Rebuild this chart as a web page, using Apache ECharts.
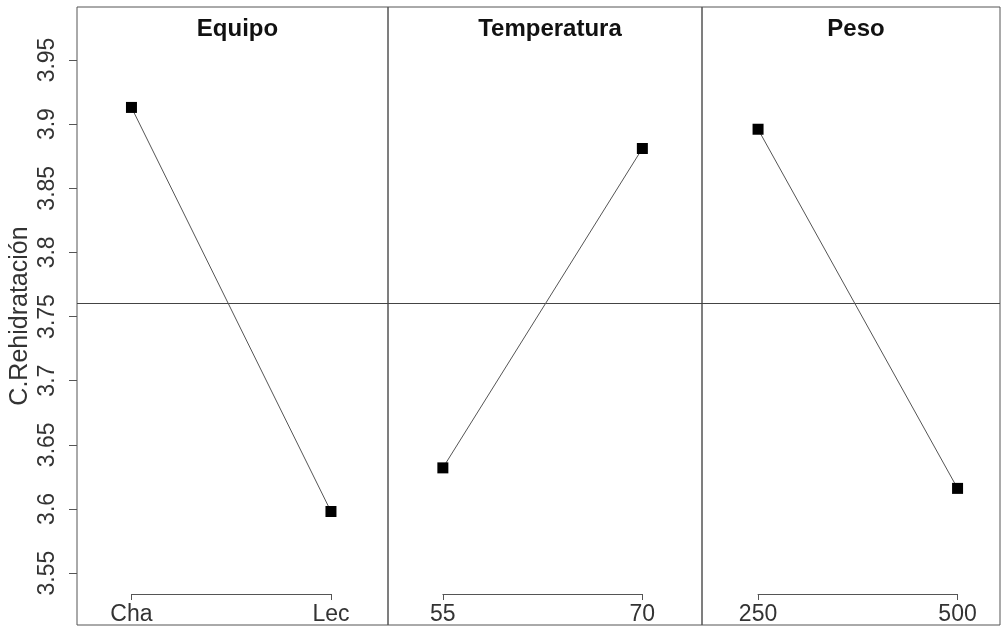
<!DOCTYPE html>
<html>
<head>
<meta charset="utf-8">
<script src="https://cdn.jsdelivr.net/npm/echarts@6/dist/echarts.min.js"></script>
<style>
  html, body { margin: 0; padding: 0; background: #fff; }
  #chart { width: 1006px; height: 627px; }
</style>
</head>
<body>
<div id="chart"></div>
<script>
  let factores = ['Equipo', 'Temperatura', 'Peso'];
  let niveles = [['Cha', 'Lec'], ['55', '70'], ['250', '500']];
  let mediaEquipo = [3.913, 3.598];
  let mediaTemperatura = [3.632, 3.881];
  let mediaPeso = [3.896, 3.616];
  let yTicks = [3.55, 3.6, 3.65, 3.7, 3.75, 3.8, 3.85, 3.9, 3.95];
  let yLabel = 'C.Rehidratación';

  let medias = [mediaEquipo, mediaTemperatura, mediaPeso];
  let todos = [].concat(mediaEquipo, mediaTemperatura, mediaPeso);
  let mediaGeneral = todos.reduce((a, b) => a + b, 0) / todos.length;

  // layout de los paneles (px)
  let panelLeft = [77, 388, 702];
  let panelRight = [388, 702, 1000];
  let xMin = [-0.273, -0.275, -0.281];
  let yMin = 3.5095, yMax = 3.9913;
  let gridTop = 7, gridBottom = 2;
  let unit = 199.5;
  let font = '"Liberation Sans", Arial, sans-serif';

  let grid = [], xAxis = [], yAxis = [], series = [], title = [];

  factores.forEach((f, i) => {
    let w = panelRight[i] - panelLeft[i];
    let xMax = xMin[i] + w / unit;
    grid.push({
      left: panelLeft[i], width: w, top: gridTop, bottom: gridBottom,
      show: true, borderColor: '#555', borderWidth: 1
    });
    xAxis.push({ gridIndex: i, type: 'value', min: xMin[i], max: xMax, show: false });
    yAxis.push({
      gridIndex: i, type: 'value', min: yMin, max: yMax,
      show: i === 0,
      splitLine: { show: false },
      axisLine: { show: false, onZero: false },
      axisTick: { show: true, length: 8, customValues: yTicks, lineStyle: { color: '#555' } },
      axisLabel: {
        customValues: yTicks, rotate: 90, margin: 18,
        color: '#333', fontSize: 23, fontFamily: font,
        formatter: v => String(+v.toFixed(2))
      },
      name: yLabel, nameLocation: 'middle', nameGap: 44, nameRotate: 90,
      nameTextStyle: { color: '#333', fontSize: 25, fontFamily: font }
    });
    title.push({
      text: f, left: (panelLeft[i] + panelRight[i]) / 2, top: 12, textAlign: 'center',
      textStyle: { fontSize: 24, fontWeight: 'bold', color: '#111', fontFamily: font }
    });
    series.push({
      type: 'line', xAxisIndex: i, yAxisIndex: i,
      data: medias[i].map((v, k) => [k, v]),
      symbol: 'rect', symbolSize: 11,
      itemStyle: { color: '#000' },
      lineStyle: { color: '#555', width: 1 },
      markLine: {
        silent: true, symbol: 'none', label: { show: false },
        lineStyle: { color: '#444', width: 1, type: 'solid' },
        data: [{ yAxis: mediaGeneral }]
      },
      z: 5
    });
  });

  // ejes "corchete" de niveles en la parte baja de cada panel
  factores.forEach((f, i) => {
    let gi = factores.length + i;
    grid.push({
      left: panelLeft[i] + (0 - xMin[i]) * unit, width: unit, top: 589, height: 5
    });
    xAxis.push({
      gridIndex: gi, type: 'value', min: 0, max: 1, interval: 1,
      axisLine: { show: true, lineStyle: { color: '#555', width: 1 } },
      axisTick: { show: true, length: 6, lineStyle: { color: '#555' } },
      splitLine: { show: false },
      axisLabel: {
        margin: 9, color: '#333', fontSize: 23, fontFamily: font,
        showMinLabel: true, showMaxLabel: true,
        formatter: v => niveles[i][v]
      }
    });
    yAxis.push({ gridIndex: gi, type: 'value', show: false, min: 0, max: 1 });
  });

  let chart = echarts.init(document.getElementById('chart'));
  chart.setOption({
    animation: false,
    backgroundColor: '#fff',
    title: title,
    grid: grid,
    xAxis: xAxis,
    yAxis: yAxis,
    series: series
  });
</script>
</body>
</html>
